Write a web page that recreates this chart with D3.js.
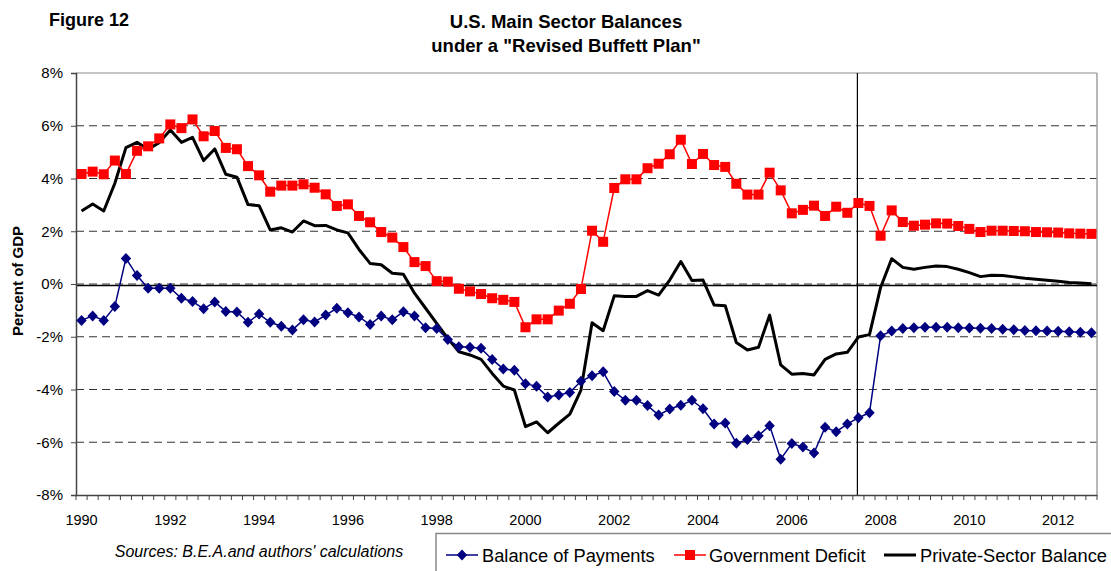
<!DOCTYPE html>
<html>
<head>
<meta charset="utf-8">
<script src="https://cdn.jsdelivr.net/npm/d3@7"></script>
<style>
  body { margin: 0; background: #fff; }
  svg { font-family: Arial, "Liberation Sans", sans-serif; }
</style>
</head>
<body>
<svg id="chart" width="1111" height="571"></svg>
<script>
// quarterly categories 1990Q1 .. 2012Q4
const years = d3.range(1990, 2013);
const quarters = years.flatMap(y => [1, 2, 3, 4].map(q => y + 'Q' + q));
const yearLabels = ['1990', '1992', '1994', '1996', '1998', '2000', '2002', '2004', '2006', '2008', '2010', '2012'];
const yTicks = [-8, -6, -4, -2, 0, 2, 4, 6, 8];
const dividerQuarter = '2007Q3';

const balancePayments = [
  -1.38, -1.21, -1.38, -0.85, 0.97, 0.32, -0.16, -0.16, -0.16, -0.54, -0.66, -0.94,
  -0.68, -1.04, -1.06, -1.45, -1.14, -1.45, -1.60, -1.74, -1.36, -1.44, -1.18, -0.92,
  -1.09, -1.25, -1.54, -1.21, -1.36, -1.05, -1.21, -1.66, -1.69, -2.10, -2.38, -2.40,
  -2.44, -2.86, -3.22, -3.27, -3.78, -3.88, -4.28, -4.21, -4.11, -3.69, -3.48, -3.33,
  -4.08, -4.41, -4.41, -4.61, -4.97, -4.74, -4.60, -4.41, -4.73, -5.31, -5.27, -6.04,
  -5.90, -5.75, -5.37, -6.64, -6.05, -6.18, -6.41, -5.43, -5.60, -5.31, -5.07, -4.88,
  -1.96, -1.78, -1.69, -1.66, -1.64, -1.64, -1.64, -1.66, -1.67, -1.68, -1.69, -1.72,
  -1.73, -1.76, -1.77, -1.78, -1.79, -1.81, -1.83, -1.85
];

const govDeficit = [
  4.17, 4.26, 4.16, 4.68, 4.17, 5.05, 5.22, 5.52, 6.05, 5.91, 6.24, 5.60,
  5.80, 5.16, 5.11, 4.47, 4.12, 3.50, 3.73, 3.73, 3.78, 3.65, 3.40, 2.96,
  3.02, 2.58, 2.34, 1.97, 1.76, 1.40, 0.83, 0.68, 0.11, 0.09, -0.18, -0.28,
  -0.38, -0.54, -0.60, -0.68, -1.64, -1.34, -1.34, -1.01, -0.75, -0.19, 2.02, 1.60,
  3.64, 3.97, 3.97, 4.39, 4.56, 4.92, 5.47, 4.55, 4.93, 4.51, 4.44, 3.80,
  3.39, 3.39, 4.22, 3.55, 2.68, 2.81, 2.97, 2.58, 2.93, 2.70, 3.07, 2.96,
  1.83, 2.79, 2.35, 2.21, 2.25, 2.30, 2.29, 2.20, 2.09, 1.97, 2.02, 2.02,
  2.01, 2.00, 1.97, 1.96, 1.95, 1.92, 1.91, 1.90
];

const privateBalance = [
  2.77, 3.03, 2.77, 3.82, 5.17, 5.37, 5.11, 5.36, 5.84, 5.37, 5.56, 4.68,
  5.12, 4.16, 4.05, 3.01, 2.97, 2.05, 2.13, 1.97, 2.39, 2.21, 2.22, 2.05,
  1.94, 1.31, 0.78, 0.73, 0.41, 0.37, -0.35, -0.92, -1.49, -2.06, -2.57, -2.69,
  -2.86, -3.39, -3.87, -4.02, -5.41, -5.23, -5.64, -5.28, -4.93, -4.02, -1.47, -1.77,
  -0.45, -0.47, -0.47, -0.25, -0.42, 0.15, 0.85, 0.13, 0.15, -0.80, -0.82, -2.22,
  -2.50, -2.40, -1.18, -3.07, -3.42, -3.39, -3.45, -2.86, -2.65, -2.59, -2.01, -1.92,
  -0.13, 0.96, 0.63, 0.56, 0.63, 0.68, 0.66, 0.56, 0.43, 0.28, 0.33, 0.32,
  0.27, 0.22, 0.18, 0.14, 0.10, 0.06, 0.04, 0.01
];

const plot = {left: 76, right: 1097, top: 73, bottom: 495};
const svg = d3.select('#chart');

const x = d3.scaleBand().domain(quarters).range([plot.left, plot.right]);
const y = d3.scaleLinear().domain([-8, 8]).range([plot.bottom, plot.top]);
const cx = q => x(q) + x.bandwidth() / 2;

// titles
svg.append('text').attr('x', 49).attr('y', 26)
   .style('font-size', '18px').style('font-weight', 'bold').text('Figure 12');
svg.append('text').attr('x', 566).attr('y', 28).attr('text-anchor', 'middle')
   .style('font-size', '18.5px').style('font-weight', 'bold').text('U.S. Main Sector Balances');
svg.append('text').attr('x', 566).attr('y', 52).attr('text-anchor', 'middle')
   .style('font-size', '18.5px').style('font-weight', 'bold').text('under a "Revised Buffett Plan"');

// gridlines
const grid = svg.append('g').attr('class', 'grid');
grid.selectAll('line')
    .data(yTicks.filter(d => d > -8 && d < 8))
    .enter().append('line')
    .attr('x1', plot.left).attr('x2', plot.right)
    .attr('y1', d => y(d)).attr('y2', d => y(d))
    .attr('stroke', '#333').attr('stroke-width', 1)
    .attr('stroke-dasharray', '8,5');

// plot border (top / right)
svg.append('line').attr('x1', plot.left).attr('x2', plot.right)
   .attr('y1', y(8)).attr('y2', y(8)).attr('stroke', '#8c8c8c').attr('stroke-width', 1.2);
svg.append('line').attr('x1', plot.right).attr('x2', plot.right)
   .attr('y1', y(8)).attr('y2', y(-8)).attr('stroke', '#a0a0a0').attr('stroke-width', 1.5);

// zero line
svg.append('line').attr('x1', plot.left).attr('x2', plot.right)
   .attr('y1', y(0) + 1.5).attr('y2', y(0) + 1.5).attr('stroke', '#000').attr('stroke-width', 1.5);

// divider
svg.append('line')
   .attr('x1', cx(dividerQuarter) - 1).attr('x2', cx(dividerQuarter) - 1)
   .attr('y1', y(8)).attr('y2', y(-8)).attr('stroke', '#000').attr('stroke-width', 1.2);

// axes
const yAxis = d3.axisLeft(y).tickValues(yTicks).tickFormat(d => d + '%').tickSize(5).tickPadding(8);
const gy = svg.append('g').attr('transform', 'translate(' + plot.left + ',0)').call(yAxis);
gy.select('.domain').attr('stroke', '#444').attr('stroke-width', 1.5);
gy.selectAll('.tick line').attr('stroke', '#444');
gy.selectAll('text').style('font-size', '15px').attr('fill', '#000');

const xAxis = d3.axisBottom(x).tickValues([]).tickSizeOuter(0);
const gx = svg.append('g').attr('transform', 'translate(0,' + plot.bottom + ')').call(xAxis);
gx.select('.domain').attr('stroke', '#444').attr('stroke-width', 1.5);
gx.selectAll('.qtick')
  .data(quarters.concat(['end']))
  .enter().append('line')
  .attr('class', 'qtick')
  .attr('x1', (d, i) => plot.left + i * x.step()).attr('x2', (d, i) => plot.left + i * x.step())
  .attr('y1', 0).attr('y2', 5).attr('stroke', '#444');
gx.selectAll('.ylab')
  .data(yearLabels)
  .enter().append('text')
  .attr('class', 'ylab')
  .attr('x', d => cx(d + 'Q1')).attr('y', 30)
  .attr('text-anchor', 'middle').style('font-size', '14.5px').attr('fill', '#000')
  .text(d => d);

// y label
svg.append('text')
   .attr('transform', 'translate(23,281) rotate(-90)')
   .attr('text-anchor', 'middle').style('font-size', '15px').style('font-weight', 'bold')
   .text('Percent of GDP');

// series
const line = d3.line().x((d, i) => cx(quarters[i])).y(d => y(d));

svg.append('path').datum(privateBalance)
   .attr('fill', 'none').attr('stroke', '#000').attr('stroke-width', 3)
   .attr('stroke-linejoin', 'round').attr('d', line);

svg.append('path').datum(govDeficit)
   .attr('fill', 'none').attr('stroke', '#ff0000').attr('stroke-width', 1.5).attr('d', line);
svg.append('g').selectAll('rect')
   .data(govDeficit)
   .enter().append('rect')
   .attr('x', (d, i) => cx(quarters[i]) - 5).attr('y', d => y(d) - 5)
   .attr('width', 10).attr('height', 10).attr('fill', '#ff0000');

svg.append('path').datum(balancePayments)
   .attr('fill', 'none').attr('stroke', '#000080').attr('stroke-width', 1.5).attr('d', line);
// excel-style diamond (square rotated 45deg)
const diamond = 'M0,-5.5L5.2,0L0,5.5L-5.2,0Z';
svg.append('g').selectAll('path')
   .data(balancePayments)
   .enter().append('path')
   .attr('transform', (d, i) => 'translate(' + cx(quarters[i]) + ',' + y(d) + ')')
   .attr('d', diamond).attr('fill', '#000080');

// sources
svg.append('text').attr('x', 259).attr('y', 557).attr('text-anchor', 'middle')
   .style('font-size', '16px').style('font-style', 'italic').text("Sources: B.E.A.and authors' calculations");

// legend
const legend = svg.append('g');
legend.append('rect').attr('x', 436).attr('y', 533.5).attr('width', 700).attr('height', 60)
      .attr('fill', 'none').attr('stroke', '#888').attr('stroke-width', 1.5);
const legendItems = [
  {name: 'Balance of Payments', color: '#000080', marker: 'diamond', x: 446, tx: 482},
  {name: 'Government Deficit', color: '#ff0000', marker: 'square', x: 674, tx: 709},
  {name: 'Private-Sector Balance', color: '#000', marker: 'none', x: 884, tx: 920}
];
legendItems.forEach(it => {
  const g = legend.append('g').attr('transform', 'translate(' + it.x + ',555)');
  g.append('line').attr('x1', 0).attr('x2', 32).attr('stroke', it.color)
   .attr('stroke-width', it.marker === 'none' ? 3 : 1.5);
  if (it.marker === 'diamond') g.append('path').attr('transform', 'translate(16,0)').attr('d', diamond).attr('fill', it.color);
  if (it.marker === 'square') g.append('rect').attr('x', 11).attr('y', -5).attr('width', 10).attr('height', 10).attr('fill', it.color);
  g.append('text').attr('x', it.tx - it.x).attr('y', 6.5).style('font-size', '18.3px').text(it.name);
});
</script>
</body>
</html>
